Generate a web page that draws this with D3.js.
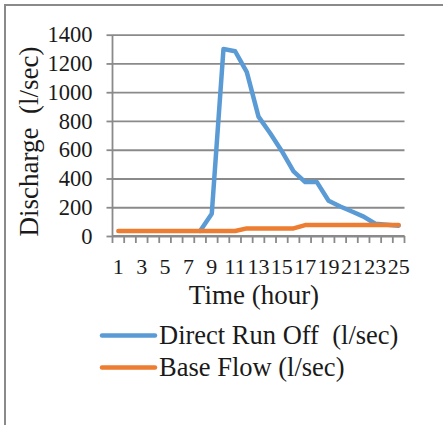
<!DOCTYPE html>
<html>
<head>
<meta charset="utf-8">
<script src="https://cdn.jsdelivr.net/npm/d3@7"></script>
<style>
  html, body { margin: 0; padding: 0; background: #fff; }
  svg { display: block; }
  text { font-family: "Liberation Serif", "Times New Roman", serif; fill: #1a1a1a; }
</style>
</head>
<body>
<svg id="chart" width="443" height="425"></svg>
<script>
// ---- data ----
const hours = d3.range(1, 26);            // categories 1..25
const directRunOff = [null, null, null, null, null, null, null, 35, 155, 1300,
                      1285, 1140, 830, 715, 590, 450, 375, 375, 245, 205,
                      170, 135, 85, 78, 72];
const baseFlow = [35, 35, 35, 35, 35, 35, 35, 35, 35, 35,
                  35, 53, 53, 53, 53, 53, 76, 76, 76, 76,
                  76, 76, 76, 76, 76];
const yTickValues = [0, 200, 400, 600, 800, 1000, 1200, 1400];
const xTickLabels = [1, 3, 5, 7, 9, 11, 13, 15, 17, 19, 21, 23, 25];
const seriesNames = ["Direct Run Off  (l/sec)", "Base Flow (l/sec)"];
const seriesColors = ["#5B9BD5", "#ED7D31"];

// ---- layout ----
const svg = d3.select("#chart");
const pL = 112.5, pR = 404.5, pT = 34.7, pB = 236;
const gridColor = "#8a8a8a";

// frame
svg.append("rect").attr("x", 5).attr("y", 5).attr("width", 600).attr("height", 600)
  .attr("fill", "none").attr("stroke", gridColor).attr("stroke-width", 2);

const x = d3.scaleBand().domain(hours).range([pL, pR]).padding(0);
const y = d3.scaleLinear().domain([0, 1400]).range([pB, pT]);
const cx = d => x(d) + x.bandwidth() / 2;

// gridlines
const grid = svg.append("g").attr("transform", `translate(${pL},0)`)
  .call(d3.axisLeft(y).tickValues(yTickValues).tickSize(-(pR - pL)).tickFormat(""));
grid.select(".domain").remove();
grid.selectAll("line").attr("stroke", gridColor).attr("stroke-width", 1.8);

// y axis
const yAxis = svg.append("g").attr("transform", `translate(${pL},0)`)
  .call(d3.axisLeft(y).tickValues(yTickValues).tickSize(6).tickPadding(14).tickFormat(d3.format("d")));
yAxis.select(".domain").attr("stroke", gridColor).attr("stroke-width", 1.8)
  .attr("d", `M0,${pT}V${pB}`);
yAxis.selectAll("line").attr("stroke", gridColor).attr("stroke-width", 1.8);
yAxis.selectAll("text").style("font-size", "22.5px").attr("fill", "#1a1a1a")
  .style("font-family", '"Liberation Serif", serif');

// x axis line and tick marks at category boundaries
const xAxis = svg.append("g").attr("transform", `translate(0,${pB})`);
xAxis.append("line").attr("x1", pL).attr("x2", pR).attr("y1", 0).attr("y2", 0)
  .attr("stroke", gridColor).attr("stroke-width", 1.8);
const boundaries = hours.map(h => x(h)).concat([pR]);
xAxis.selectAll("line.tk").data(boundaries).enter().append("line").attr("class", "tk")
  .attr("x1", d => d).attr("x2", d => d).attr("y1", 0).attr("y2", 7)
  .attr("stroke", gridColor).attr("stroke-width", 1.8);

// x labels
const xLab = svg.append("g").attr("transform", `translate(0,${pB})`)
  .call(d3.axisBottom(x).tickValues(xTickLabels).tickSize(0).tickPadding(22));
xLab.select(".domain").remove();
xLab.selectAll("text").style("font-size", "22px").attr("fill", "#1a1a1a")
  .style("font-family", '"Liberation Serif", serif');

// lines
const line = d3.line().defined(d => d.v != null).x(d => cx(d.h)).y(d => y(d.v));
[directRunOff, baseFlow].forEach((arr, i) => {
  svg.append("path")
    .datum(hours.map((h, j) => ({ h: h, v: arr[j] })))
    .attr("d", line)
    .attr("fill", "none")
    .attr("stroke", seriesColors[i])
    .attr("stroke-width", 4.5)
    .attr("stroke-linejoin", "round")
    .attr("stroke-linecap", "round");
});

// axis titles
svg.append("text").attr("x", 254).attr("y", 303.5).attr("text-anchor", "middle")
  .style("font-size", "27px").text("Time (hour)");
svg.append("text").attr("transform", "translate(38,141.5) rotate(-90)")
  .attr("text-anchor", "middle").style("font-size", "27px")
  .style("white-space", "pre")
  .text("Discharge  (l/sec)");

// legend
const legendY = [335.5, 367.5];
seriesNames.forEach((name, i) => {
  svg.append("line").attr("x1", 102).attr("x2", 155).attr("y1", legendY[i]).attr("y2", legendY[i])
    .attr("stroke", seriesColors[i]).attr("stroke-width", 4.5).attr("stroke-linecap", "round");
  svg.append("text").attr("x", 159).attr("y", legendY[i] + 8)
    .style("font-size", "26.5px").style("white-space", "pre").text(name);
});
</script>
</body>
</html>
